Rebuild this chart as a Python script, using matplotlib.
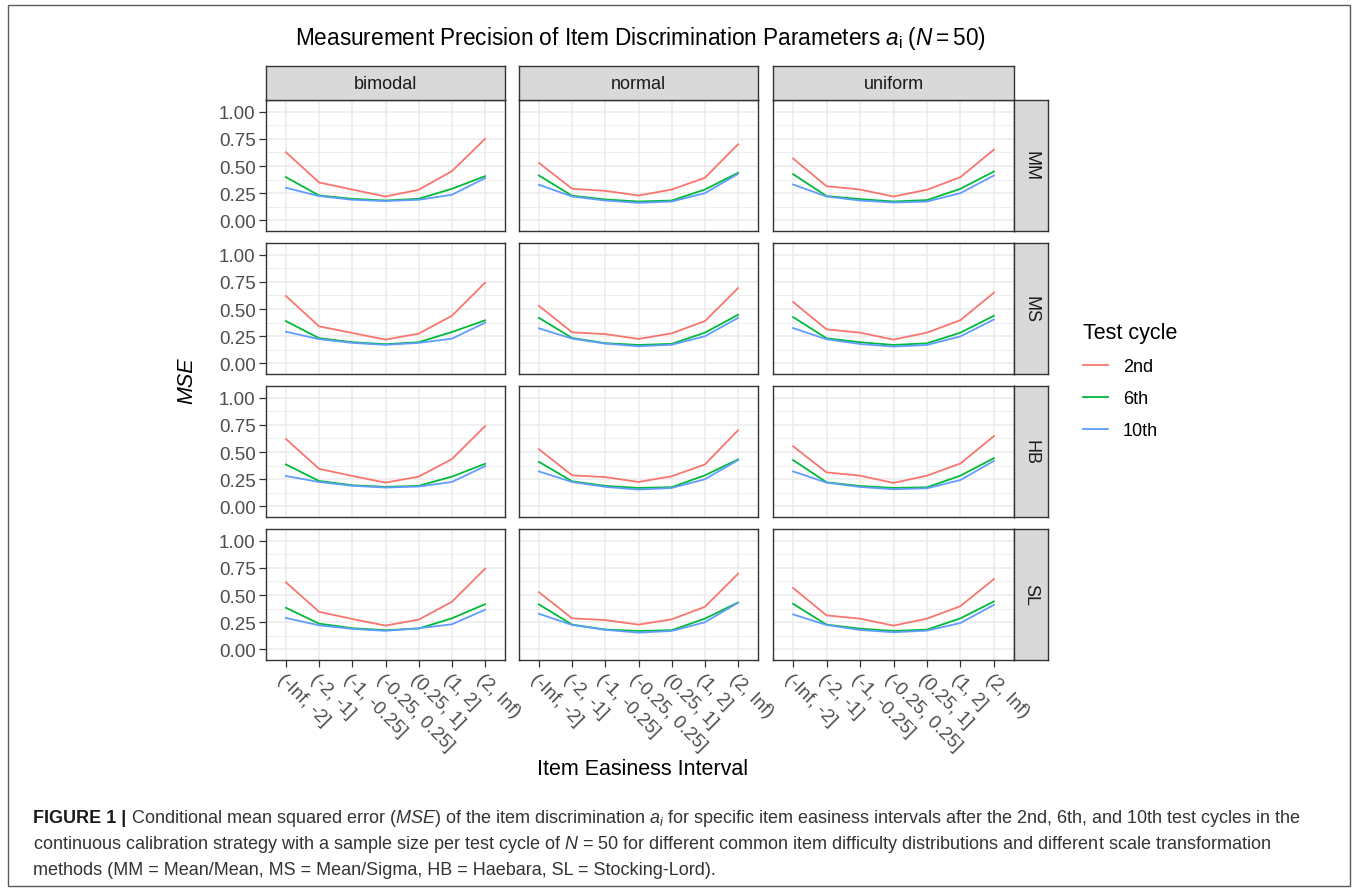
import matplotlib
matplotlib.use("Agg")
import matplotlib.pyplot as plt
from matplotlib.patches import Rectangle

plt.rcParams['font.family'] = ['Liberation Sans', 'DejaVu Sans']
plt.rcParams['mathtext.fontset'] = 'custom'
plt.rcParams['mathtext.rm'] = 'Liberation Sans'
plt.rcParams['mathtext.it'] = 'Liberation Sans:italic'

# ---- data (MSE of a_i per item easiness interval) ----
intervals = ["(-Inf, -2]", "(-2, -1]", "(-1, -0.25]", "(-0.25, 0.25]",
             "(0.25, 1]", "(1, 2]", "(2, Inf)"]
distributions = ["bimodal", "normal", "uniform"]
methods = ["MM", "MS", "HB", "SL"]
cycles = ["2nd", "6th", "10th"]

# each: [2nd, 6th, 10th]
MM_bimodal = [[0.627, 0.349, 0.284, 0.220, 0.282, 0.453, 0.750],
              [0.398, 0.229, 0.199, 0.183, 0.199, 0.291, 0.407],
              [0.300, 0.224, 0.190, 0.178, 0.190, 0.236, 0.389]]
MM_normal = [[0.529, 0.291, 0.272, 0.229, 0.284, 0.392, 0.700],
             [0.413, 0.227, 0.193, 0.174, 0.183, 0.284, 0.438],
             [0.328, 0.220, 0.183, 0.162, 0.174, 0.251, 0.428]]
MM_uniform = [[0.569, 0.315, 0.284, 0.220, 0.282, 0.398, 0.651],
              [0.425, 0.224, 0.196, 0.174, 0.187, 0.291, 0.450],
              [0.330, 0.220, 0.183, 0.165, 0.174, 0.251, 0.413]]

MS_bimodal = [[0.620, 0.341, 0.280, 0.219, 0.274, 0.438, 0.742],
              [0.389, 0.232, 0.195, 0.177, 0.195, 0.289, 0.396],
              [0.292, 0.223, 0.189, 0.171, 0.189, 0.228, 0.374]]
MS_normal = [[0.529, 0.286, 0.270, 0.225, 0.277, 0.389, 0.693],
             [0.419, 0.234, 0.186, 0.170, 0.180, 0.283, 0.447],
             [0.323, 0.228, 0.182, 0.158, 0.172, 0.250, 0.419]]
MS_uniform = [[0.565, 0.313, 0.283, 0.219, 0.283, 0.398, 0.650],
              [0.426, 0.231, 0.195, 0.170, 0.185, 0.283, 0.438],
              [0.325, 0.222, 0.179, 0.155, 0.170, 0.249, 0.404]]

HB_bimodal = [[0.620, 0.346, 0.280, 0.219, 0.274, 0.435, 0.738],
              [0.386, 0.234, 0.195, 0.180, 0.189, 0.274, 0.392],
              [0.280, 0.225, 0.190, 0.174, 0.183, 0.225, 0.370]]
HB_normal = [[0.526, 0.286, 0.270, 0.225, 0.277, 0.386, 0.700],
             [0.410, 0.231, 0.189, 0.170, 0.177, 0.286, 0.432],
             [0.322, 0.225, 0.180, 0.155, 0.170, 0.250, 0.426]]
HB_uniform = [[0.553, 0.313, 0.283, 0.216, 0.283, 0.395, 0.647],
              [0.426, 0.222, 0.188, 0.170, 0.176, 0.283, 0.444],
              [0.322, 0.219, 0.179, 0.158, 0.167, 0.243, 0.419]]

SL_bimodal = [[0.617, 0.346, 0.280, 0.219, 0.274, 0.438, 0.742],
              [0.383, 0.237, 0.195, 0.177, 0.192, 0.286, 0.416],
              [0.289, 0.222, 0.189, 0.171, 0.195, 0.231, 0.365]]
SL_normal = [[0.526, 0.286, 0.270, 0.228, 0.277, 0.392, 0.696],
             [0.414, 0.228, 0.183, 0.170, 0.177, 0.283, 0.432],
             [0.328, 0.225, 0.180, 0.155, 0.170, 0.250, 0.429]]
SL_uniform = [[0.565, 0.313, 0.283, 0.219, 0.283, 0.398, 0.647],
              [0.419, 0.228, 0.191, 0.170, 0.182, 0.286, 0.441],
              [0.322, 0.225, 0.179, 0.158, 0.173, 0.243, 0.410]]

panels = {
    "MM": [MM_bimodal, MM_normal, MM_uniform],
    "MS": [MS_bimodal, MS_normal, MS_uniform],
    "HB": [HB_bimodal, HB_normal, HB_uniform],
    "SL": [SL_bimodal, SL_normal, SL_uniform],
}

colors = ["#F8766D", "#00BA38", "#619CFF"]

# ---- layout in pixels ----
W, H = 1357, 895
col_x = [(266, 505), (519, 758), (773, 1014)]
row_y = [(101, 232), (244, 375), (387, 518), (530, 661)]
strip_top = (67, 101)
strip_right = (1014, 1048)


def box(x0, y0, x1, y1):
    return [x0 / W, 1 - y1 / H, (x1 - x0) / W, (y1 - y0) / H]


def strip(rect, label, rot=0):
    sax = fig.add_axes(box(*rect))
    sax.set_facecolor('#D9D9D9')
    sax.set_xticks([])
    sax.set_yticks([])
    for s in sax.spines.values():
        s.set_color(edge)
        s.set_linewidth(1.0)
    sax.text(0.5, 0.5, label, ha='center', va='center', fontsize=13,
             color='#1A1A1A', rotation=rot, transform=sax.transAxes)


fig = plt.figure(figsize=(W / 100, H / 100), dpi=100)

edge = "#333333"
handles = []
for r, m in enumerate(methods):
    for c, d in enumerate(distributions):
        ax = fig.add_axes(box(col_x[c][0], row_y[r][0], col_x[c][1], row_y[r][1]))
        lines = []
        for vals, col in zip(panels[m][c], colors):
            ln, = ax.plot(intervals, vals, color=col, lw=1.3, zorder=3)
            lines.append(ln)
        if not handles:
            handles = lines
        ax.set_xlim(-0.6, 6.6)
        ax.set_ylim(-0.097, 1.107)
        ax.set_yticks([0, 0.25, 0.5, 0.75, 1.0])
        ax.set_yticks([0.125, 0.375, 0.625, 0.875], minor=True)
        ax.grid(True, which='major', color='#EBEBEB', lw=1.1, zorder=0)
        ax.grid(True, which='minor', axis='y', color='#EBEBEB', lw=0.6, zorder=0)
        ax.set_axisbelow(True)
        for s in ax.spines.values():
            s.set_color(edge)
            s.set_linewidth(1.0)
        ax.tick_params(axis='both', which='minor', length=0)
        ax.tick_params(axis='both', which='major', length=5, width=0.9,
                       color=edge, labelcolor='#4D4D4D', labelsize=13.5, pad=2.5)
        if c == 0:
            ax.set_yticklabels(["0.00", "0.25", "0.50", "0.75", "1.00"])
        else:
            ax.tick_params(axis='y', length=0, labelleft=False)
        if r == len(methods) - 1:
            ax.set_xticks(range(len(intervals)))
            ax.set_xticklabels(intervals, rotation=-45, ha='left', va='top',
                               rotation_mode='anchor')
        else:
            ax.tick_params(axis='x', length=0, labelbottom=False)

        if r == 0:
            strip((col_x[c][0], strip_top[0], col_x[c][1], strip_top[1]), d)
        if c == len(distributions) - 1:
            strip((strip_right[0], row_y[r][0], strip_right[1], row_y[r][1]), m, rot=-90)

# titles
fig.text(640 / W, 1 - 38 / H,
         r"Measurement Precision of Item Discrimination Parameters $a_{\mathrm{i}}\;(N=50)$",
         ha='center', va='center', fontsize=16.3, color='black')
fig.text(643 / W, 1 - 770 / H, "Item Easiness Interval", ha='center', va='center',
         fontsize=15.5, color='black')
fig.text(187 / W, 1 - 381 / H, "MSE", ha='center', va='center', rotation=90,
         fontsize=15.5, style='italic', color='black')

# legend
leg = fig.legend(handles, cycles, title="Test cycle", loc='upper left',
                 bbox_to_anchor=(1083 / W, 1 - 323 / H), frameon=False,
                 fontsize=13, title_fontsize=15.5, borderpad=0, borderaxespad=0,
                 handlelength=1.4, handletextpad=0.8, labelspacing=0.83,
                 alignment='left')

# frame
fig.add_artist(Rectangle((8 / W, 1 - 887 / H), (1350 - 8) / W, (887 - 6) / H,
                         transform=fig.transFigure, fill=False,
                         edgecolor='#5A5A5A', lw=1.0))

# caption
cap_font = ['Liberation Sans Narrow', 'Liberation Sans']
cap_size = 13
cap_lines = [
    r" Conditional mean squared error ($MSE$) of the item discrimination $a_i$ for specific item easiness intervals after the 2nd, 6th, and 10th test cycles in the",
    r"continuous calibration strategy with a sample size per test cycle of $N$ = 50 for different common item difficulty distributions and different scale transformation",
    r"methods (MM = Mean/Mean, MS = Mean/Sigma, HB = Haebara, SL = Stocking-Lord).",
]
baselines = [823, 849, 875]
x0 = 33
bold = fig.text(x0 / W, 1 - baselines[0] / H, "FIGURE 1 |", fontsize=cap_size,
                weight='bold', family=cap_font, va='baseline', color='#1A1A1A')
renderer = fig.canvas.get_renderer()
bx1 = bold.get_window_extent(renderer).x1
fig.text(bx1 / W, 1 - baselines[0] / H, cap_lines[0], fontsize=cap_size,
         family=cap_font, va='baseline', color='#333333')
for txt, yb in zip(cap_lines[1:], baselines[1:]):
    fig.text(x0 / W, 1 - yb / H, txt, fontsize=cap_size, family=cap_font,
             va='baseline', color='#333333')

fig.savefig("out.png", dpi=100)
